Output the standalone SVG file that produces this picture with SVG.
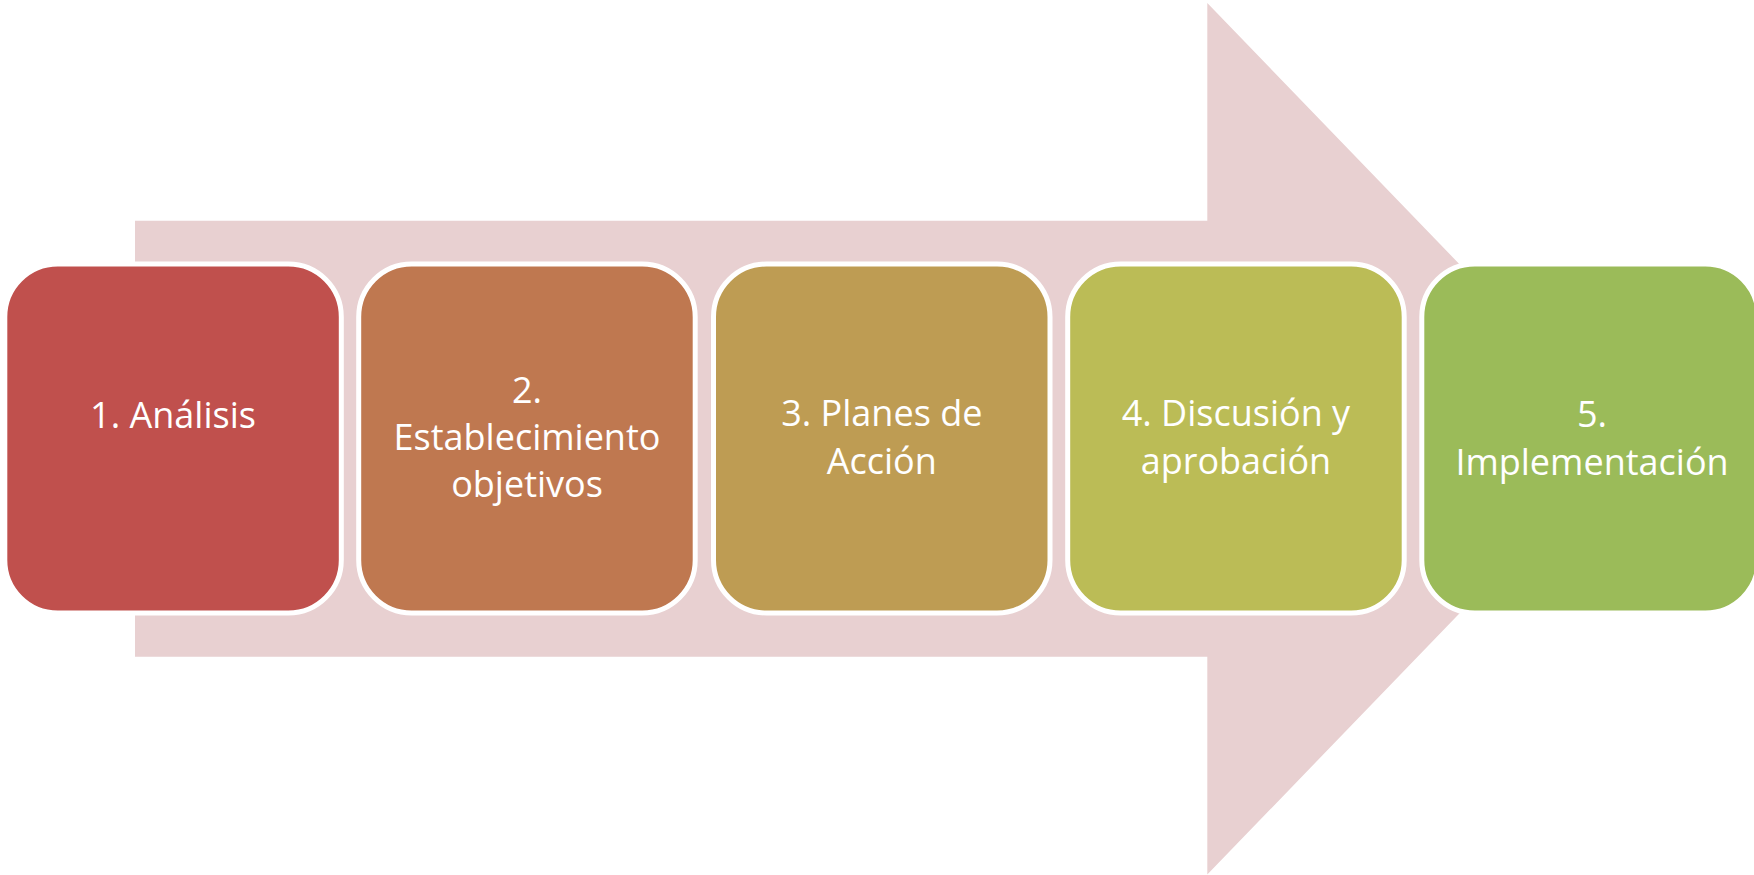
<svg xmlns="http://www.w3.org/2000/svg" width="1754" height="875" viewBox="0 0 1754 875">
<style>
.box{stroke:#FFFFFF;stroke-width:5}
.lbl{font-family:"Open Sans","Noto Sans","Liberation Sans",sans-serif;font-size:36px;fill:#FFFFFF;text-anchor:middle}
</style>
<rect width="1754" height="875" fill="#FFFFFF"/>
<g id="connectors">
<path d="M135,220.7 H1207.3 V3 L1628,438.8 L1207.3,874.6 V656.7 H135 Z" fill="#E8D0D1"/>
</g>
<g id="node1">
<rect class="box" x="4.8" y="264" width="336.5" height="349" rx="53" fill="#C0504D"/>
<text class="lbl" x="173" y="427.7">1. Análisis</text>
</g>
<g id="node2">
<rect class="box" x="358.7" y="264" width="336.5" height="349" rx="53" fill="#BF7850"/>
<text class="lbl" x="527" y="402.7">2.</text>
<text class="lbl" x="527" y="450">Establecimiento</text>
<text class="lbl" x="527" y="497">objetivos</text>
</g>
<g id="node3">
<rect class="box" x="713.5" y="264" width="336.5" height="349" rx="53" fill="#BE9C53"/>
<text class="lbl" x="881.8" y="426">3. Planes de</text>
<text class="lbl" x="881.8" y="473.5">Acción</text>
</g>
<g id="node4">
<rect class="box" x="1067.7" y="264" width="336.5" height="349" rx="53" fill="#BBBC56"/>
<text class="lbl" x="1235.9" y="426">4. Discusión y</text>
<text class="lbl" x="1235.9" y="473.5">aprobación</text>
</g>
<g id="node5">
<rect class="box" x="1421.8" y="264" width="336.5" height="349" rx="53" fill="#9BBB59"/>
<text class="lbl" x="1592" y="426.7">5.</text>
<text class="lbl" x="1592" y="475">Implementación</text>
</g>
</svg>
